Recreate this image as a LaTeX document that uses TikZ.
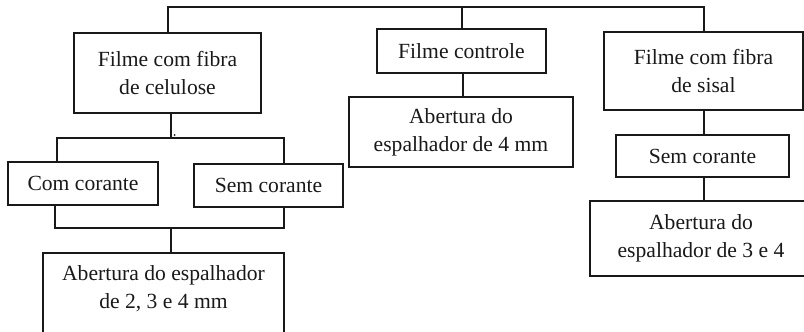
\documentclass[tikz,border=0pt]{standalone}
\usepackage{fontspec}
\setmainfont{Liberation Serif}
\begin{document}
\begin{tikzpicture}[x=1pt,y=-1pt,
  every node/.style={font=\fontsize{21.6pt}{28pt}\selectfont, text=black!90, align=center, inner sep=0pt},
  box/.style={draw=black!90, line width=2pt},
  link/.style={draw=black!90, line width=2pt}]
\useasboundingbox (0,0) rectangle (804,332);
\clip (0,0) rectangle (804,332);

% first level
\node[box, minimum width=187pt, minimum height=80pt] (cel) at (167.5,73) {Filme com fibra\\de celulose};
\node[box, minimum width=169pt, minimum height=44pt] (ctrl) at (461.5,51) {Filme controle};
\node[box, minimum width=199pt, minimum height=78pt] (sis) at (703.5,71) {Filme com fibra\\de sisal};

% control branch
\node[box, minimum width=224pt, minimum height=70pt] (ab4) at (461,132) {Abertura do\\espalhador de 4 mm};

% sisal branch
\node[box, minimum width=173pt, minimum height=42pt] (semS) at (702.5,156) {Sem corante};
\node[box, minimum width=222pt, minimum height=75pt] (ab34) at (701,238.5) {Abertura do\\espalhador de 3 e 4};

% cellulose branch
\node[box, minimum width=150pt, minimum height=43pt] (com) at (83,183.5) {Com corante};
\node[box, minimum width=149pt, minimum height=43pt] (semC) at (268.5,185.5) {Sem corante};
\node[box, minimum width=241pt, minimum height=110pt, anchor=north] (ab234box) at (163.5,252) {};
\node (ab234) at (163.5,289) {Abertura do espalhador\\de 2, 3 e 4 mm};

% junction points
\coordinate (top) at (463,7);
\coordinate (splitL) at (57,138);
\coordinate (splitM) at (171,138);
\coordinate (splitR) at (284,138);
\coordinate (joinL) at (55,228);
\coordinate (joinM) at (171,228);
\coordinate (joinR) at (284,228);

% connectors
\draw[link] (cel.north) |- (top) -| (sis.north);
\draw[link] (ctrl.north) -- (ctrl.north |- top);
\draw[link] (ctrl.south -| top) -- (ab4.north -| top);
\draw[link] (sis.south) -- (semS.north -| sis.south);
\draw[link] (semS.south -| sis.south) -- (ab34.north -| sis.south);
\draw[link] (cel.south -| splitM) -- (splitM);
\draw[link] (com.north -| splitL) -- (splitL) -- (splitR) -- (semC.north -| splitR);
\draw[link] (com.south -| joinL) -- (joinL) -- (joinR) -- (semC.south -| joinR);
\draw[link] (joinM) -- (ab234box.north -| joinM);

% small stray mark beside the split
\fill[black!90] (174.5,135) circle (1pt);
\end{tikzpicture}
\end{document}
